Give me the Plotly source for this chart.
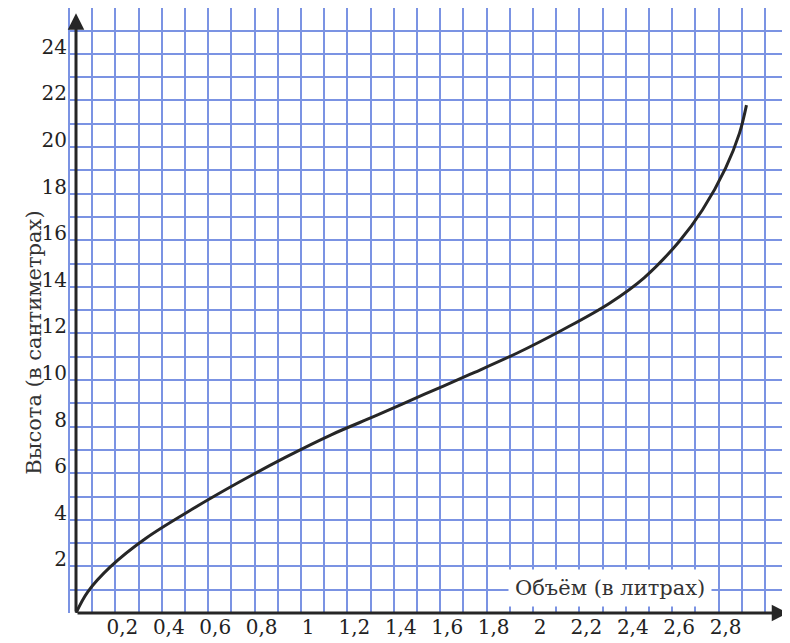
import plotly.graph_objects as go

# curve: volume (litres) -> height (cm)
volume = [0, 0.05, 0.15, 0.3, 0.5, 0.7, 0.9, 1.1, 1.3, 1.5, 1.7, 1.9,
          2.1, 2.3, 2.45, 2.6, 2.7, 2.8, 2.86, 2.89]
height = [0, 0.9, 2.0, 3.2, 4.45, 5.6, 6.67, 7.65, 8.5, 9.38, 10.25, 11.15,
          12.17, 13.3, 14.4, 15.95, 17.3, 19.1, 20.6, 21.8]

x_ticks = [0.2, 0.4, 0.6, 0.8, 1, 1.2, 1.4, 1.6, 1.8, 2, 2.2, 2.4, 2.6, 2.8]
x_labels = ["0,2", "0,4", "0,6", "0,8", "1", "1,2", "1,4", "1,6", "1,8", "2",
            "2,2", "2,4", "2,6", "2,8"]
y_ticks = [2, 4, 6, 8, 10, 12, 14, 16, 18, 20, 22, 24]

grid_col = "#7b93e3"
ink = "#262626"
font_serif = "DejaVu Serif"
x_range = [-0.0345, 3.069]
y_range = [0, 25.97]

y_grid = list(range(0, 26))
y_text = [str(v) if v in y_ticks else "" for v in y_grid]

fig = go.Figure()
fig.add_trace(
    go.Scatter(
        x=volume,
        y=height,
        mode="lines",
        line=dict(color=ink, width=3, shape="spline", smoothing=1),
        hoverinfo="skip",
        showlegend=False,
    )
)

# page body adds an 8px offset, so the figure is a bit smaller than the window
fig.update_layout(
    width=782,
    height=635,
    margin=dict(l=60, r=2, t=0, b=30, pad=0),
    paper_bgcolor="white",
    plot_bgcolor="white",
    showlegend=False,
    xaxis=dict(
        range=x_range,
        automargin=False,
        tickmode="array",
        tickvals=x_ticks,
        ticktext=x_labels,
        showgrid=False,
        # the printed grid is offset from the ticks
        minor=dict(
            tickmode="linear",
            tick0=-0.03,
            dtick=0.1,
            showgrid=True,
            gridcolor=grid_col,
            gridwidth=1.5,
            ticks="",
        ),
        zeroline=False,
        showline=False,
        ticks="",
        tickfont=dict(family=font_serif, size=20, color="#222"),
    ),
    yaxis=dict(
        range=y_range,
        automargin=False,
        tickmode="array",
        tickvals=y_grid,
        ticktext=y_text,
        showgrid=True,
        gridcolor=grid_col,
        gridwidth=1.5,
        zeroline=False,
        showline=False,
        ticks="",
        ticklabelshift=-7,
        ticklabelstandoff=0,
        tickfont=dict(family=font_serif, size=20, color="#222"),
    ),
)

# axis arrows
fig.add_annotation(x=0, y=25.75, ax=0, ay=0, xref="x", yref="y", axref="x", ayref="y",
                   text="", showarrow=True, arrowhead=2, arrowsize=1.1,
                   arrowwidth=3, arrowcolor=ink)
fig.add_annotation(x=3.07, y=0, ax=0, ay=0, xref="x", yref="y", axref="x", ayref="y",
                   text="", showarrow=True, arrowhead=2, arrowsize=1.1,
                   arrowwidth=3, arrowcolor=ink)

fig.add_annotation(x=-0.069, y=25.3, xref="x", yref="y", text="<i>y</i>",
                   showarrow=False, font=dict(family=font_serif, size=20, color="#333"))
fig.add_annotation(x=3.03, y=-0.86, xref="x", yref="y", text="<i>x</i>",
                   showarrow=False, font=dict(family=font_serif, size=20, color="#333"))

fig.add_annotation(x=2.30, y=1.07, xref="x", yref="y", text="Объём (в литрах)",
                   showarrow=False, bgcolor="white", borderpad=6,
                   font=dict(family=font_serif, size=21, color="#333"))

fig.add_annotation(x=-0.0667, y=11.6, xref="paper", yref="y", textangle=-90,
                   text="Высота (в сантиметрах)", showarrow=False,
                   font=dict(family=font_serif, size=21, color="#333"))

fig.write_html("out.html")
